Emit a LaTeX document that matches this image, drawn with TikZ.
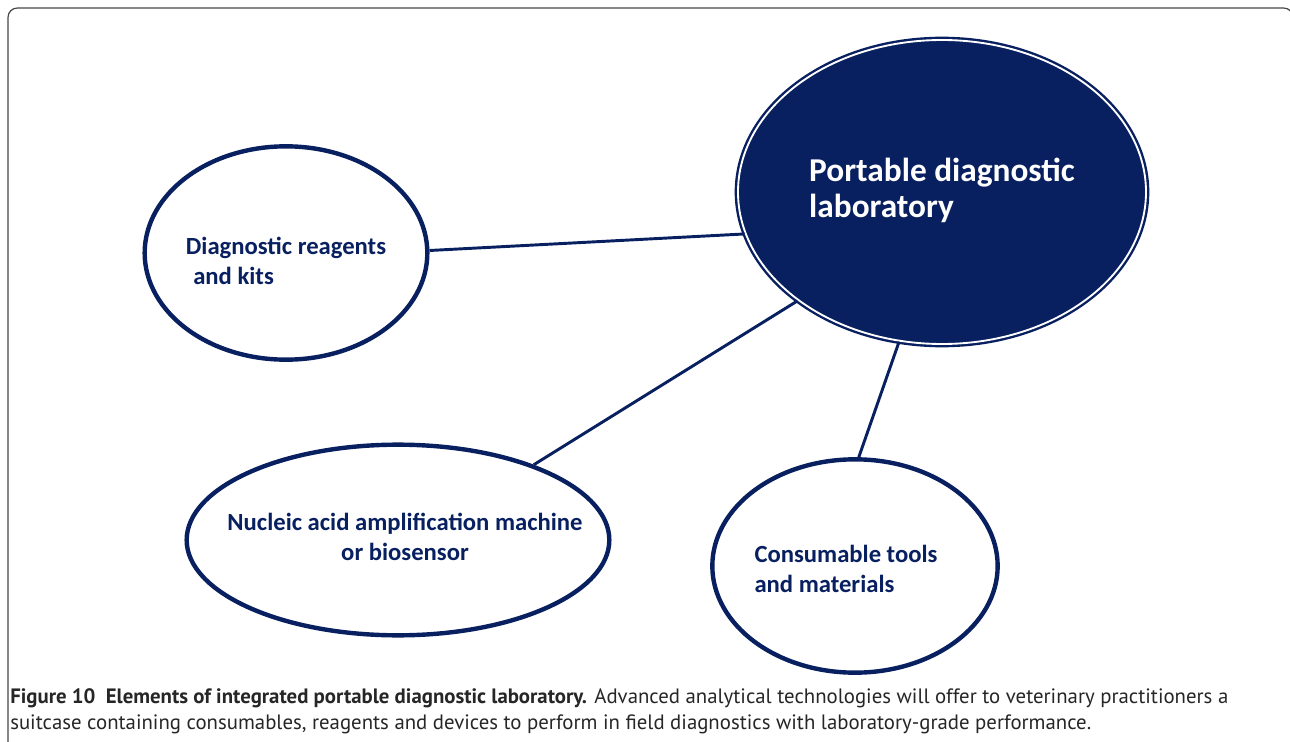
\documentclass[tikz,border=0pt]{standalone}
\usepackage{fontspec}
\setmainfont{Carlito}
\newfontfamily\captionfont{PT Sans}
\usetikzlibrary{shapes.geometric}
\definecolor{labnavy}{RGB}{8,32,96}
\definecolor{framegray}{RGB}{70,70,70}

\begin{document}
\begin{tikzpicture}[x=0.75pt,y=-0.75pt]
  \tikzstyle{every node} = [inner sep = 0pt]
  \tikzstyle{element} = [ellipse, draw = labnavy, line width = 3.3pt, fill = white]
  \tikzstyle{hub} = [ellipse, draw = labnavy, fill = labnavy, line width = 1.8pt,
                     double = white, double distance = 1.4pt]
  \tikzstyle{elementtext} = [text = labnavy, align = left,
                             font = \bfseries\fontsize{18.5}{22.5}\selectfont]
  \tikzstyle{hubtext} = [text = white, align = left,
                         font = \bfseries\fontsize{25}{27}\selectfont]
  \tikzstyle{link} = [draw = labnavy, line width = 2.2pt]
  \tikzstyle{captiontext} = [anchor = base west, text = black!85,
                             font = \captionfont\fontsize{15.6}{18.75}\selectfont]

\useasboundingbox (0,0) rectangle (1290,742);
\clip (0,0) rectangle (1290,742);
\draw[framegray, line width = 0.9pt, rounded corners = 7pt] (8,780) -- (8,8) -- (1293,8) -- (1293,780);

% elements
\node[hub, minimum width = 306pt, minimum height = 228pt] (lab) at (942,192) {};
\node[element, minimum width = 212pt, minimum height = 160pt] (reagents) at (286,253) {};
\node[element, minimum width = 317pt, minimum height = 143pt] (machine) at (398,540) {};
\node[element, minimum width = 214pt, minimum height = 160pt] (tools) at (855,566) {};

\node[hubtext] (labtext) at (942,190) {Portable diagnostic\\laboratory};
\node[elementtext] (reagentstext) at (286,261) {Diagnostic reagents\\\hspace*{0.3em}and kits};
\node[elementtext, align = center] (machinetext) at (405,537) {Nucleic acid amplification machine\\or biosensor};
\node[elementtext] (toolstext) at (846,569) {Consumable tools\\and materials};

% links
\draw[link] (reagents.1.6) -- (lab.192.6);
\draw[link] (machine.29.8) -- (lab.217.5);
\draw[link] (lab.254.2) -- (tools.88.4);

% caption
\node[captiontext] (captionA) at (10,703) {{\bfseries Figure 10\hspace{0.5em}Elements of integrated portable diagnostic laboratory.} Advanced analytical technologies will offer to veterinary practitioners a};
\node[captiontext] (captionB) at (10,729) {suitcase containing consumables, reagents and devices to perform in field diagnostics with laboratory-grade performance.};

\end{tikzpicture}
\end{document}
